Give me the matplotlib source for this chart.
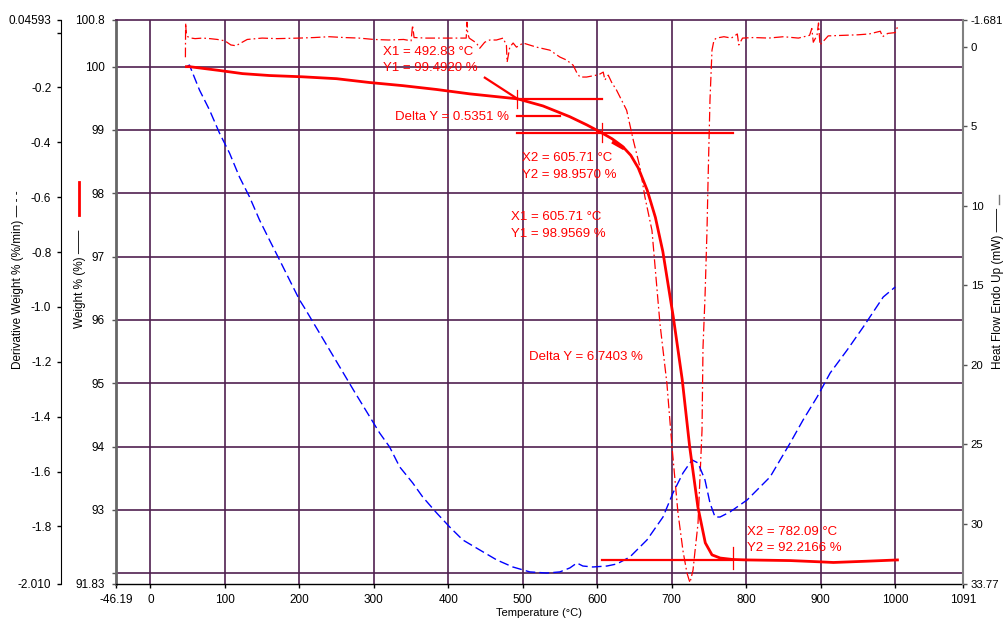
import matplotlib
matplotlib.use('Agg')
import matplotlib.pyplot as plt
from matplotlib.lines import Line2D

plt.rcParams['font.family'] = ['Liberation Sans', 'DejaVu Sans']
plt.rcParams['lines.scale_dashes'] = False

# ---------------- data ----------------
weight_T = [48.4, 52.4, 92.7, 123.7, 160, 204, 250, 294, 339, 384, 429, 492.8, 527, 563,
            586, 605.7, 620, 634, 645, 655, 667, 678, 688, 702, 714, 724, 735, 745, 754, 765,
            782, 801, 859, 899, 917, 962, 1003]
weight_W = [100.0, 100.0, 99.94, 99.89, 99.86, 99.84, 99.81, 99.75, 99.70, 99.64, 99.57,
            99.492, 99.38, 99.21, 99.08, 98.957, 98.86, 98.74, 98.60, 98.40, 98.05, 97.62,
            97.08, 96.05, 95.06, 94.0, 93.05, 92.48, 92.29, 92.24, 92.217, 92.21, 92.20,
            92.18, 92.17, 92.19, 92.21]

deriv_T = [47.0, 47.3, 48, 50, 55, 60, 70, 80, 90, 100, 108, 115, 120, 130, 150, 170, 200,
           220, 240, 260, 280, 300, 320, 340, 350, 352, 354, 370, 390, 410, 424, 425, 426,
           428, 437.7, 442.2, 448.9, 455.6, 464.6, 473.5, 478.0, 478.9, 482.5, 487.0, 491.5,
           500.4, 518.3, 536.3, 549.7, 558.7, 567.6, 572.1, 576.6, 585.6, 599.0, 603.5, 608.0,
           610.2, 614.7, 619.2, 625.9, 639.4, 648.3, 657.3, 664, 673.4, 684.1, 693.5, 700.3,
           708.3, 715.1, 720.4, 724.4, 728.5, 731.2, 735.2, 740.6, 741.9, 744.6, 747.3, 748.7,
           751.3, 754.0, 756.7, 760, 770, 780, 788, 790, 795, 810, 830, 850, 870, 885, 888,
           890, 895, 897, 899, 910, 930, 950, 965, 980, 983, 990, 1000, 1003]
deriv_D = [-0.09, 0.035, 0.0, -0.015, -0.02, -0.022, -0.02, -0.022, -0.025, -0.03, -0.045,
           -0.048, -0.04, -0.025, -0.02, -0.022, -0.02, -0.018, -0.015, -0.018, -0.02, -0.025,
           -0.027, -0.025, -0.03, 0.027, -0.018, -0.02, -0.02, -0.02, -0.02, 0.038, -0.003,
           -0.02, -0.038, -0.057, -0.035, -0.027, -0.027, -0.020, -0.046, -0.108, -0.053,
           -0.038, -0.053, -0.038, -0.053, -0.064, -0.089, -0.100, -0.119, -0.144, -0.162,
           -0.162, -0.155, -0.151, -0.144, -0.173, -0.155, -0.181, -0.210, -0.283, -0.392,
           -0.491, -0.60, -0.721, -1.06, -1.28, -1.51, -1.75, -1.89, -1.97, -2.005, -1.96,
           -1.89, -1.79, -1.45, -1.15, -0.965, -0.72, -0.54, -0.246, -0.064, -0.027, -0.02,
           -0.015, -0.02, -0.005, -0.045, -0.02, -0.018, -0.02, -0.015, -0.02, -0.01, 0.015,
           -0.035, -0.01, 0.035, -0.045, -0.012, -0.01, -0.008, -0.005, 0.005, -0.015,
           -0.003, 0.0, 0.02]

heat_T = [48.4, 52.4, 65.9, 79.3, 92.7, 106.2, 119.6, 133.1, 146.5, 159.9, 173.4, 186.8,
          200.3, 207.0, 240.6, 274.2, 307.8, 321.2, 334.7, 352.2, 365.6, 384.4, 401.9, 419.4,
          442.2, 465.1, 486.6, 509.4, 532.3, 549.7, 563.2, 572.6, 580.6, 594.1, 612.9, 626.3,
          643.8, 666.7, 688.2, 701.6, 715.1, 727.2, 735.2, 744.6, 751.3, 758.1, 764.8, 778.2,
          801.1, 832.0, 858.9, 876.3, 895.2, 912.6, 935.5, 957.0, 983.9, 1000.0]
heat_H = [1.27, 1.15, 2.72, 3.97, 5.42, 6.68, 8.19, 9.44, 10.89, 12.15, 13.40, 14.66,
          15.92, 16.42, 19.06, 21.70, 24.28, 25.16, 26.41, 27.42, 28.30, 29.31, 30.19, 31.00,
          31.63, 32.26, 32.70, 33.01, 33.08, 33.01, 32.76, 32.45, 32.64, 32.70, 32.64, 32.51,
          32.07, 31.00, 29.56, 28.05, 26.79, 25.97, 26.16, 27.23, 28.68, 29.56, 29.56, 29.24,
          28.49, 27.04, 24.91, 23.46, 22.01, 20.51, 19.06, 17.62, 15.73, 15.10]

# step analyses (onset points)
X1a, Y1a, X2a, Y2a, dYa = 492.83, 99.4920, 605.71, 98.9570, 0.5351
X1b, Y1b, X2b, Y2b, dYb = 605.71, 98.9569, 782.09, 92.2166, 6.7403

x_ticks = [-46.19, 0, 100, 200, 300, 400, 500, 600, 700, 800, 900, 1000, 1091]
x_labels = ['-46.19', '0', '100', '200', '300', '400', '500', '600', '700', '800', '900', '1000', '1091']
w_ticks = [91.83, 92, 93, 94, 95, 96, 97, 98, 99, 100, 100.737]
w_labels = ['91.83', '', '93', '94', '95', '96', '97', '98', '99', '100', '100.8']
d_ticks = [-2.010, -1.8, -1.6, -1.4, -1.2, -1.0, -0.8, -0.6, -0.4, -0.2, 0.0, 0.04593]
d_labels = ['-2.010', '-1.8', '-1.6', '-1.4', '-1.2', '-1.0', '-0.8', '-0.6', '-0.4', '-0.2', '', '0.04593']
h_ticks = [-1.681, 0, 5, 10, 15, 20, 25, 30, 33.77]
h_labels = ['-1.681', '0', '5', '10', '15', '20', '25', '30', '33.77']

# ---------------- figure ----------------
W, H = 1004, 620
fig = plt.figure(figsize=(W / 100, H / 100), dpi=100)
fig.patch.set_facecolor('white')
L, R, TOP, BOT = 116, 963, 20, 584
rect = [L / W, 1 - BOT / H, (R - L) / W, (BOT - TOP) / H]
GRID = '#502050'
RED = '#ff0000'
FS = 8.5

axbg = fig.add_axes(rect)
axbg.set_xlim(-46.19, 1091)
axbg.set_ylim(91.83, 100.737)
for t in range(0, 1001, 100):
    axbg.axvline(t, color=GRID, lw=1.2, zorder=0)
for w in range(92, 101):
    axbg.axhline(w, color=GRID, lw=1.2, zorder=0)
axbg.set_xticks(x_ticks)
axbg.set_xticklabels(x_labels)
axbg.set_yticks(w_ticks)
axbg.set_yticklabels(w_labels)
axbg.tick_params(axis='x', direction='out', length=3, width=1, labelsize=FS, pad=4, color='black')
axbg.tick_params(axis='y', direction='out', length=3, width=1, labelsize=FS, pad=5, color='#555555')
axbg.spines['left'].set_color('#666666')
axbg.spines['left'].set_linewidth(2)
axbg.spines['bottom'].set_color('black')
axbg.spines['bottom'].set_linewidth(1)
axbg.spines['top'].set_color(GRID)
axbg.spines['top'].set_linewidth(1.2)
axbg.spines['right'].set_visible(False)

# derivative axis (outer left)
axd = axbg.twinx()
axd.set_ylim(-2.010, 0.04593)
axd.yaxis.set_ticks_position('left')
axd.spines['left'].set_position(('axes', (61 - L) / (R - L)))
axd.spines['left'].set_visible(True)
axd.spines['left'].set_color('black')
for s in ['right', 'top', 'bottom']:
    axd.spines[s].set_visible(False)
axd.set_yticks(d_ticks)
axd.set_yticklabels(d_labels)
axd.tick_params(axis='y', direction='out', length=3, width=1, labelsize=FS, pad=4)
axd.plot(deriv_T, deriv_D, color=RED, lw=0.9, linestyle=(0, (7, 2.2, 1.2, 2.2)))

# heat flow axis (right)
axh = axbg.twinx()
axh.set_ylim(33.77, -1.681)
for s in ['left', 'top', 'bottom']:
    axh.spines[s].set_visible(False)
axh.spines['right'].set_color('#808080')
axh.spines['right'].set_linewidth(1.5)
axh.set_yticks(h_ticks)
axh.set_yticklabels(h_labels)
axh.tick_params(axis='y', direction='out', length=3, width=1, labelsize=8.2, pad=2.5, color='#555555')
axh.plot(heat_T, heat_H, color='#0000ff', lw=1.0, linestyle=(0, (7, 3)))

# weight overlay axis
axw = axbg.twinx()
axw.set_ylim(91.83, 100.737)
axw.set_axis_off()
axw.plot(weight_T, weight_W, color=RED, lw=2.0, solid_joinstyle='round')

# analysis annotations
alw = 1.6
axw.plot([449, X1a], [99.826, Y1a], color=RED, lw=alw)
axw.plot([X1a, X2a], [Y1a, Y1a], color=RED, lw=alw)
axw.plot([X1a, (X1a + X2a) / 2], [(Y1a + Y2a) / 2] * 2, color=RED, lw=alw)
axw.plot([X1a, X2b], [Y2a, Y2a], color=RED, lw=alw)
axw.plot([X1b, X2b], [Y2b, Y2b], color=RED, lw=alw)
axw.plot([X1a, X1a], [Y1a + 0.145, Y1a - 0.14], color=RED, lw=0.9)
axw.plot([X2a, X2a], [Y2a + 0.16, Y2a - 0.14], color=RED, lw=0.9)
axw.plot([X2b, X2b], [Y2b + 0.19, Y2b - 0.15], color=RED, lw=0.9)
axw.plot([622, 634], [98.80, 98.72], color=RED, lw=2.6)

tkw = dict(color=RED, fontsize=9.5, ha='left', va='center')
axw.text(311.8, 100.232, f'X1 = {X1a:.2f} °C', **tkw)
axw.text(311.8, 99.975, f'Y1 = {Y1a:.4f} %', **tkw)
axw.text(328, 99.206, f'Delta Y = {dYa:.4f} %', **tkw)
axw.text(498.3, 98.554, f'X2 = {X2a:.2f} °C', **tkw)
axw.text(498.3, 98.29, f'Y2 = {Y2a:.4f} %', **tkw)
axw.text(483.5, 97.622, f'X1 = {X1b:.2f} °C', **tkw)
axw.text(483.5, 97.358, f'Y1 = {Y1b:.4f} %', **tkw)
axw.text(508.5, 95.421, f'Delta Y = {dYb:.4f} %', **tkw)
axw.text(800.7, 92.657, f'X2 = {X2b:.2f} °C', **tkw)
axw.text(800.7, 92.395, f'Y2 = {Y2b:.4f} %', **tkw)

# axis titles
def fx(x):
    return x / W

def fy(y):
    return 1 - y / H

fig.text(fx(539.5), fy(613), 'Temperature (°C)', fontsize=8, ha='center', va='center')
fig.text(fx(18), fy(280), 'Derivative Weight % (%/min) — - -', fontsize=8.5, rotation=90,
         ha='center', va='center')
fig.text(fx(80), fy(279), 'Weight % (%) ——', fontsize=8.5, rotation=90, ha='center', va='center')
fig.add_artist(Line2D([fx(79), fx(79)], [fy(182), fy(215)], color=RED, lw=2))
fig.text(fx(998), fy(288), 'Heat Flow Endo Up (mW) ——', fontsize=8.5, rotation=90,
         ha='center', va='center')
fig.add_artist(Line2D([fx(999), fx(999)], [fy(195), fy(204)], color='#777777', lw=1))

fig.savefig('out.png', dpi=100)
